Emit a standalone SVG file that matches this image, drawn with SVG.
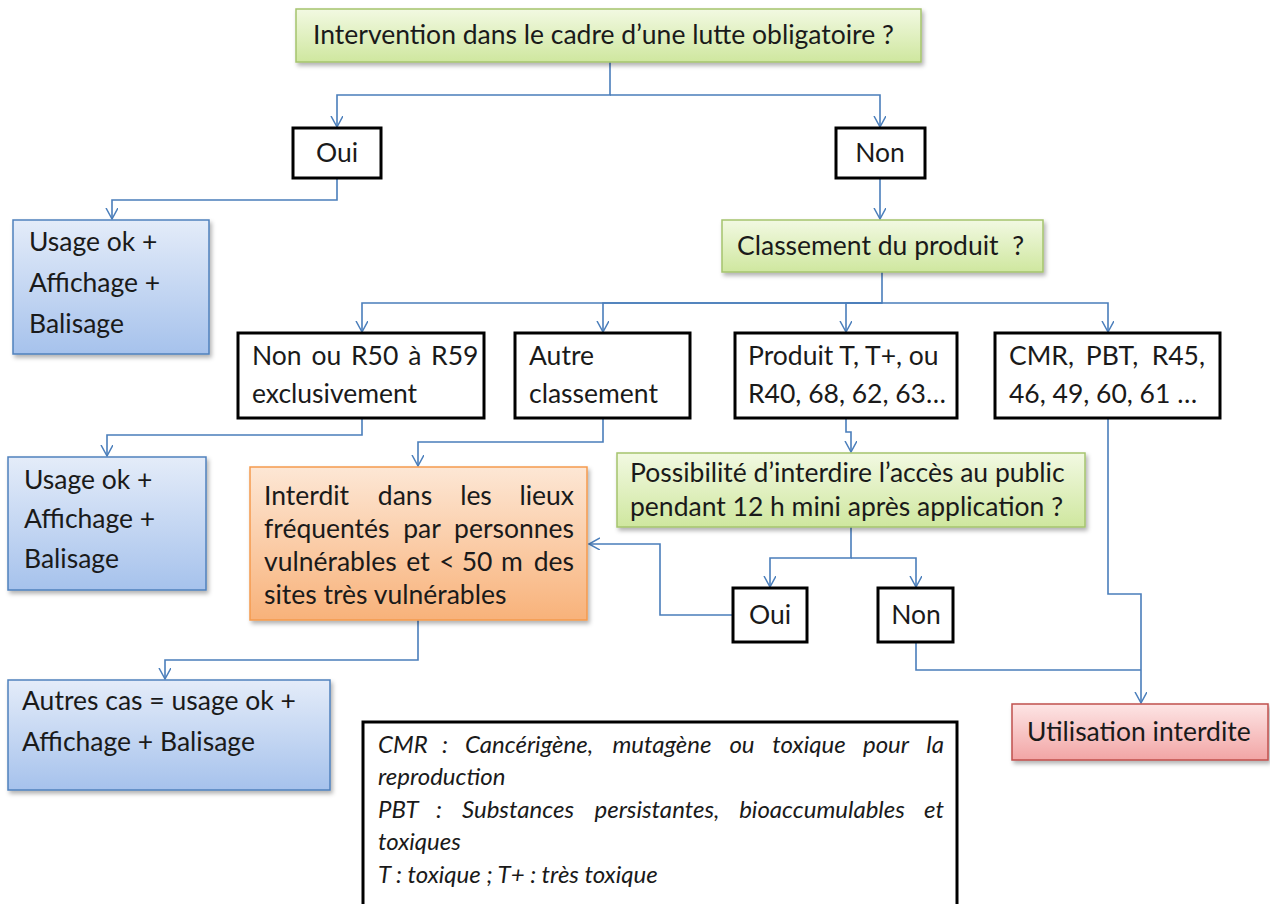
<svg xmlns="http://www.w3.org/2000/svg" width="1270" height="904" viewBox="0 0 1270 904">
<defs>
<linearGradient id="gGreen" x1="0" y1="0" x2="0" y2="1"><stop offset="0" stop-color="#f2f9e2"/><stop offset="1" stop-color="#cfe79f"/></linearGradient>
<linearGradient id="gBlue" x1="0" y1="0" x2="0" y2="1"><stop offset="0" stop-color="#e4ecf9"/><stop offset="1" stop-color="#a6c2ec"/></linearGradient>
<linearGradient id="gOrange" x1="0" y1="0" x2="0" y2="1"><stop offset="0" stop-color="#fde7d5"/><stop offset="1" stop-color="#f8b27a"/></linearGradient>
<linearGradient id="gRed" x1="0" y1="0" x2="0" y2="1"><stop offset="0" stop-color="#fde5e5"/><stop offset="1" stop-color="#f2a5a5"/></linearGradient>
<filter id="sh" x="-5%" y="-10%" width="115%" height="130%"><feDropShadow dx="2" dy="3" stdDeviation="2" flood-color="#000" flood-opacity="0.3"/></filter>
<marker id="arr" markerUnits="userSpaceOnUse" markerWidth="14" markerHeight="14" refX="11" refY="6" orient="auto"><path d="M0,0 L11,6 L0,12" fill="none" stroke="#4a7ebb" stroke-width="1.5"/></marker>
</defs>
<style>
.t{font-family:Lato,"Liberation Sans",sans-serif;font-size:26.5px;fill:#1a1a1a}
.m{text-anchor:middle}
.e{text-anchor:end}
.lg{font-family:Lato,"Liberation Sans",sans-serif;font-size:24px;font-style:italic;fill:#1a1a1a}
.c{fill:none;stroke:#4a7ebb;stroke-width:1.6;marker-end:url(#arr)}
.cn{fill:none;stroke:#4a7ebb;stroke-width:1.6}
.bk{fill:#fff;stroke:#000;stroke-width:3}
.gr{fill:url(#gGreen);stroke:#a5c46e;stroke-width:1.5;filter:url(#sh)}
.bl{fill:url(#gBlue);stroke:#4f81bd;stroke-width:1.5;filter:url(#sh)}
.or{fill:url(#gOrange);stroke:#f59a4e;stroke-width:1.5;filter:url(#sh)}
.rd{fill:url(#gRed);stroke:#c0504d;stroke-width:1.5;filter:url(#sh)}
</style>
<rect width="1270" height="904" fill="#fff"/>

<g id="connectors">
<path class="c" d="M610,62 V95 H337 V127"/>
<path class="c" d="M610,95 H880 V127"/>
<path class="c" d="M337,178 V200 H112 V219"/>
<path class="c" d="M880,178 V219"/>
<path class="c" d="M882,272 V303 H362 V332"/>
<path class="c" d="M882,303 H603 V332"/>
<path class="c" d="M882,303 H846 V332"/>
<path class="c" d="M882,303 H1108 V332"/>
<path class="c" d="M362,418 V435 H107 V456"/>
<path class="c" d="M603,418 V442 H418 V466"/>
<path class="c" d="M846,418 V432 H851 V452"/>
<path class="c" d="M851,527 V558 H770 V587"/>
<path class="c" d="M851,558 H916 V587"/>
<path class="c" d="M733,615 H660 V544 H589"/>
<path class="c" d="M1108,418 V594 H1141 V703"/>
<path class="cn" d="M916,642 V670 H1141"/>
<path class="c" d="M418,620 V660 H165 V679"/>
</g>

<g id="n-top">
<rect class="gr" x="296" y="9" width="625" height="53"/>
<text class="t" x="313" y="44">Intervention dans le cadre d’une lutte obligatoire ?</text>
</g>
<g id="n-oui1">
<rect class="bk" x="293" y="128" width="88" height="50"/>
<text class="t m" x="337" y="162">Oui</text>
</g>
<g id="n-non1">
<rect class="bk" x="836" y="128" width="89" height="50"/>
<text class="t m" x="880" y="162">Non</text>
</g>
<g id="n-blue1">
<rect class="bl" x="13" y="220" width="196" height="134"/>
<text class="t" x="29" y="251">Usage ok +</text>
<text class="t" x="29" y="292">Affichage +</text>
<text class="t" x="29" y="333">Balisage</text>
</g>
<g id="n-classement">
<rect class="gr" x="722" y="220" width="321" height="52"/>
<text class="t" x="737" y="255" xml:space="preserve">Classement du produit  ?</text>
</g>
<g id="n-a">
<rect class="bk" x="238" y="333" width="246" height="85"/>
<text class="t" x="252" y="365" word-spacing="3">Non ou R50 à R59</text>
<text class="t" x="252" y="403">exclusivement</text>
</g>
<g id="n-b">
<rect class="bk" x="515" y="333" width="175" height="85"/>
<text class="t" x="529" y="365">Autre</text>
<text class="t" x="529" y="403">classement</text>
</g>
<g id="n-c">
<rect class="bk" x="735" y="333" width="222" height="85"/>
<text class="t" x="748" y="365">Produit T, T+, ou</text>
<text class="t" x="748" y="403">R40, 68, 62, 63…</text>
</g>
<g id="n-d">
<rect class="bk" x="995" y="333" width="225" height="85"/>
<text class="t" x="1009" y="365">CMR,</text>
<text class="t m" x="1112" y="365">PBT,</text>
<text class="t e" x="1205" y="365">R45,</text>
<text class="t" x="1009" y="403">46, 49, 60, 61 …</text>
</g>
<g id="n-blue2">
<rect class="bl" x="8" y="457" width="198" height="133"/>
<text class="t" x="24" y="489">Usage ok +</text>
<text class="t" x="24" y="528">Affichage +</text>
<text class="t" x="24" y="568">Balisage</text>
</g>
<g id="n-orange">
<rect class="or" x="250" y="467" width="337" height="153"/>
<text class="t" x="264" y="505">Interdit</text>
<text class="t m" x="405" y="505">dans</text>
<text class="t m" x="476" y="505">les</text>
<text class="t e" x="574" y="505">lieux</text>
<text class="t" x="264" y="538">fréquentés</text>
<text class="t m" x="422" y="538">par</text>
<text class="t e" x="574" y="538">personnes</text>
<text class="t" x="264" y="571">vulnérables</text>
<text class="t m" x="418" y="571">et</text>
<text class="t m" x="447" y="571">&lt;</text>
<text class="t m" x="477" y="571">50</text>
<text class="t m" x="512" y="571">m</text>
<text class="t e" x="574" y="571">des</text>
<text class="t" x="264" y="604">sites très vulnérables</text>
</g>
<g id="n-possibilite">
<rect class="gr" x="617" y="453" width="468" height="74"/>
<text class="t" x="630" y="482">Possibilité d’interdire l’accès au public</text>
<text class="t" x="630" y="516">pendant 12 h mini après application ?</text>
</g>
<g id="n-oui2">
<rect class="bk" x="733" y="588" width="74" height="54"/>
<text class="t m" x="770" y="624">Oui</text>
</g>
<g id="n-non2">
<rect class="bk" x="878" y="588" width="75" height="54"/>
<text class="t m" x="916" y="624">Non</text>
</g>
<g id="n-utilisation">
<rect class="rd" x="1012" y="704" width="256" height="56"/>
<text class="t" x="1027" y="741">Utilisation interdite</text>
</g>
<g id="n-blue3">
<rect class="bl" x="8" y="680" width="322" height="110"/>
<text class="t" x="22" y="710">Autres cas = usage ok +</text>
<text class="t" x="22" y="751">Affichage + Balisage</text>
</g>
<g id="n-legend">
<rect x="363" y="722" width="594" height="200" fill="#fff" stroke="#000" stroke-width="3"/>
<text class="lg" x="378" y="753">CMR</text>
<text class="lg m" x="445" y="753">:</text>
<text class="lg m" x="529" y="753">Cancérigène,</text>
<text class="lg m" x="662" y="753">mutagène</text>
<text class="lg m" x="742" y="753">ou</text>
<text class="lg m" x="809" y="753">toxique</text>
<text class="lg m" x="886" y="753">pour</text>
<text class="lg e" x="944" y="753">la</text>
<text class="lg" x="378" y="785">reproduction</text>
<text class="lg" x="378" y="818">PBT</text>
<text class="lg m" x="439" y="818">:</text>
<text class="lg m" x="518" y="818">Substances</text>
<text class="lg m" x="657" y="818">persistantes,</text>
<text class="lg m" x="822" y="818">bioaccumulables</text>
<text class="lg e" x="944" y="818">et</text>
<text class="lg" x="378" y="850">toxiques</text>
<text class="lg" x="378" y="883">T : toxique ; T+ : très toxique</text>
</g>
</svg>
